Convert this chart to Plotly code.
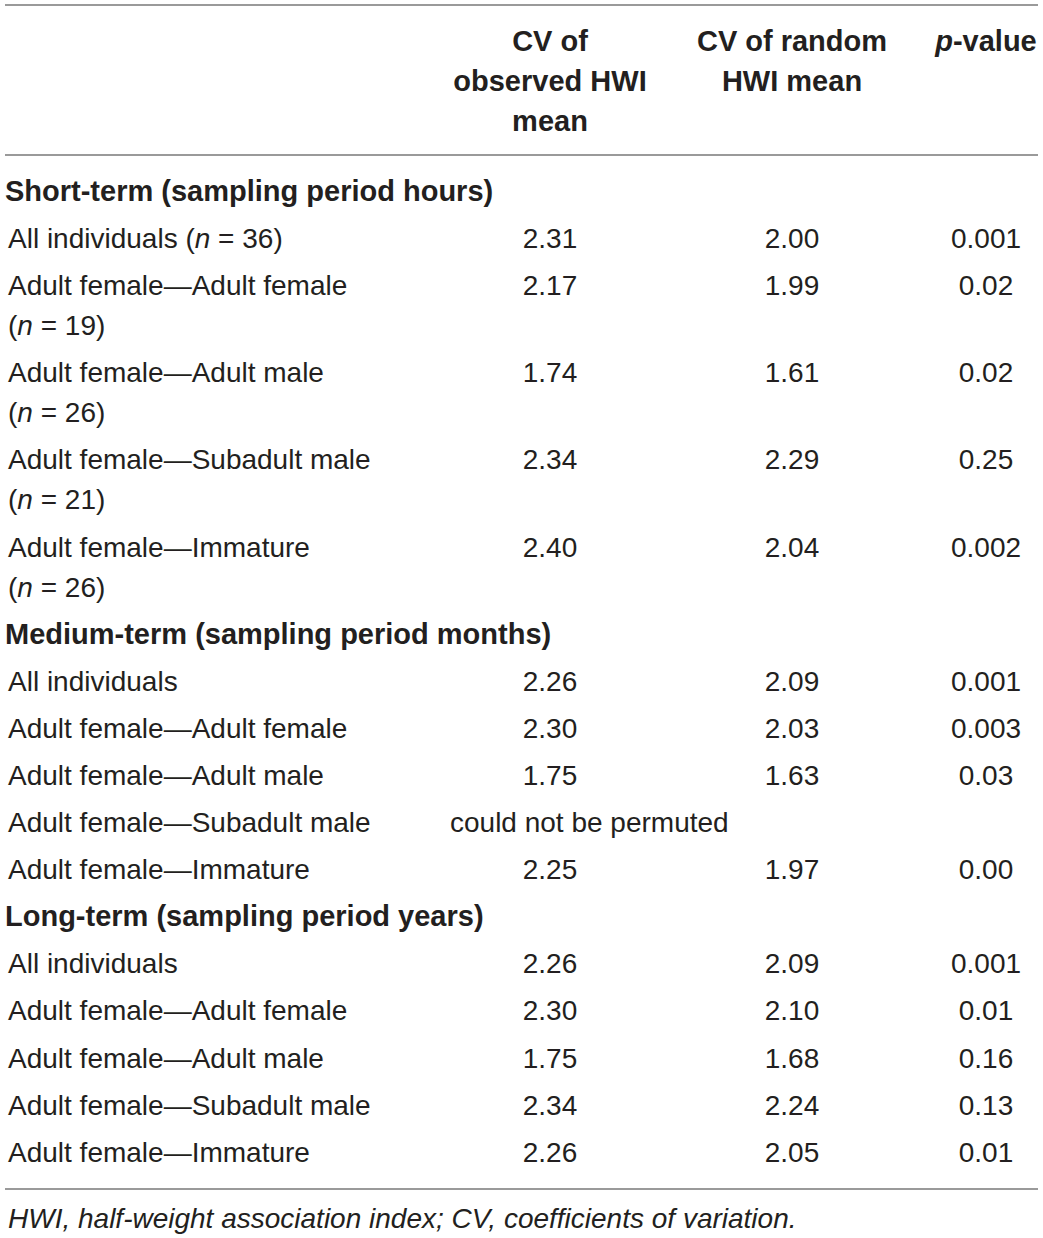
import plotly.graph_objects as go

# header text of the value columns
col_headers = [
    ["CV of", "observed HWI", "mean"],
    ["CV of random", "HWI mean"],
    ["<i>p</i>-value"],
]

sections = [
    "Short-term (sampling period hours)",
    "Medium-term (sampling period months)",
    "Long-term (sampling period years)",
]

pair_labels = [
    "Adult female\u2014Adult female",
    "Adult female\u2014Adult male",
    "Adult female\u2014Subadult male",
    "Adult female\u2014Immature",
]
row_labels = ["All individuals"] + pair_labels

short_n = [36, 19, 26, 21, 26]
short_obs = [2.31, 2.17, 1.74, 2.34, 2.40]
short_rand = [2.00, 1.99, 1.61, 2.29, 2.04]
short_p = ["0.001", "0.02", "0.02", "0.25", "0.002"]

medium_obs = [2.26, 2.30, 1.75, None, 2.25]
medium_rand = [2.09, 2.03, 1.63, None, 1.97]
medium_p = ["0.001", "0.003", "0.03", None, "0.00"]

long_obs = [2.26, 2.30, 1.75, 2.34, 2.26]
long_rand = [2.09, 2.10, 1.68, 2.24, 2.05]
long_p = ["0.001", "0.01", "0.16", "0.13", "0.01"]

missing_note = "could not be permuted"
footnote = "HWI, half-weight association index; CV, coefficients of variation."

W, H = 1043, 1238
FONT = "Liberation Sans, Arial, sans-serif"
INK = "#231f20"
FS = 28      # regular text
FSB = 29     # bold text

col_x = [550, 792, 986]
label_x = 8
row_step = 47.1
wrap_step = 40

# ---- lay out the rows ----
lab_x, lab_y, lab_t = [], [], []
sec_y = []
num_x, num_y, num_t = [], [], []
note_y = None

section_data = [
    (short_obs, short_rand, short_p, short_n),
    (medium_obs, medium_rand, medium_p, None),
    (long_obs, long_rand, long_p, None),
]

y = 194
for s, (obs, rnd, pv, ns) in enumerate(section_data):
    sec_y.append(y)
    for i, lab in enumerate(row_labels):
        y += row_step
        extra = 0
        if ns is not None:
            ntxt = "(<i>n</i> = %d)" % ns[i]
            if i == 0:
                lab_t.append(lab + " " + ntxt)
                lab_x.append(label_x); lab_y.append(y)
            else:
                lab_t.append(lab); lab_x.append(label_x); lab_y.append(y)
                lab_t.append(ntxt); lab_x.append(label_x); lab_y.append(y + wrap_step)
                extra = wrap_step
        else:
            lab_t.append(lab); lab_x.append(label_x); lab_y.append(y)
        if obs[i] is None:
            note_y = y
        else:
            for cx, v in zip(col_x, ["%.2f" % obs[i], "%.2f" % rnd[i], pv[i]]):
                num_x.append(cx); num_y.append(y); num_t.append(v)
        y += extra
    y += row_step

fig = go.Figure()

# header
hx, hy, ht = [], [], []
for cx, lines in zip(col_x, col_headers):
    for k, t in enumerate(lines):
        hx.append(cx); hy.append(44 + 40 * k); ht.append("<b>%s</b>" % t)
fig.add_trace(go.Scatter(x=hx, y=hy, text=ht, mode="text",
                         textposition="middle center",
                         textfont=dict(family=FONT, size=FSB, color=INK)))

fig.add_trace(go.Scatter(x=[5] * len(sec_y), y=sec_y,
                         text=["<b>%s</b>" % t for t in sections], mode="text",
                         textposition="middle right",
                         textfont=dict(family=FONT, size=FSB, color=INK)))

fig.add_trace(go.Scatter(x=lab_x, y=lab_y, text=lab_t, mode="text",
                         textposition="middle right",
                         textfont=dict(family=FONT, size=FS, color=INK)))

fig.add_trace(go.Scatter(x=num_x, y=num_y, text=num_t, mode="text",
                         textposition="middle center",
                         textfont=dict(family=FONT, size=FS, color=INK)))

fig.add_trace(go.Scatter(x=[450], y=[note_y], text=[missing_note], mode="text",
                         textposition="middle right",
                         textfont=dict(family=FONT, size=FS, color=INK)))

fig.add_trace(go.Scatter(x=[8], y=[1221], text=["<i>%s</i>" % footnote], mode="text",
                         textposition="middle right",
                         textfont=dict(family=FONT, size=FS, color=INK)))

# rules
for ry in [5, 155, 1189]:
    fig.add_shape(type="line", x0=5, x1=1038, y0=ry, y1=ry,
                  line=dict(color="#9a9a9a", width=2))

fig.update_layout(
    width=W, height=H,
    margin=dict(l=0, r=0, t=0, b=0),
    paper_bgcolor="white", plot_bgcolor="white",
    showlegend=False,
    hovermode=False,
    xaxis=dict(range=[0, W], visible=False, fixedrange=True),
    yaxis=dict(range=[H, 0], visible=False, fixedrange=True),
)

# drop the default 8px body margin so the figure fills the window exactly
fig.write_html("out.html",
               config={"displayModeBar": False},
               post_script="document.body.style.margin='0';"
                           "document.body.style.overflow='hidden';")
